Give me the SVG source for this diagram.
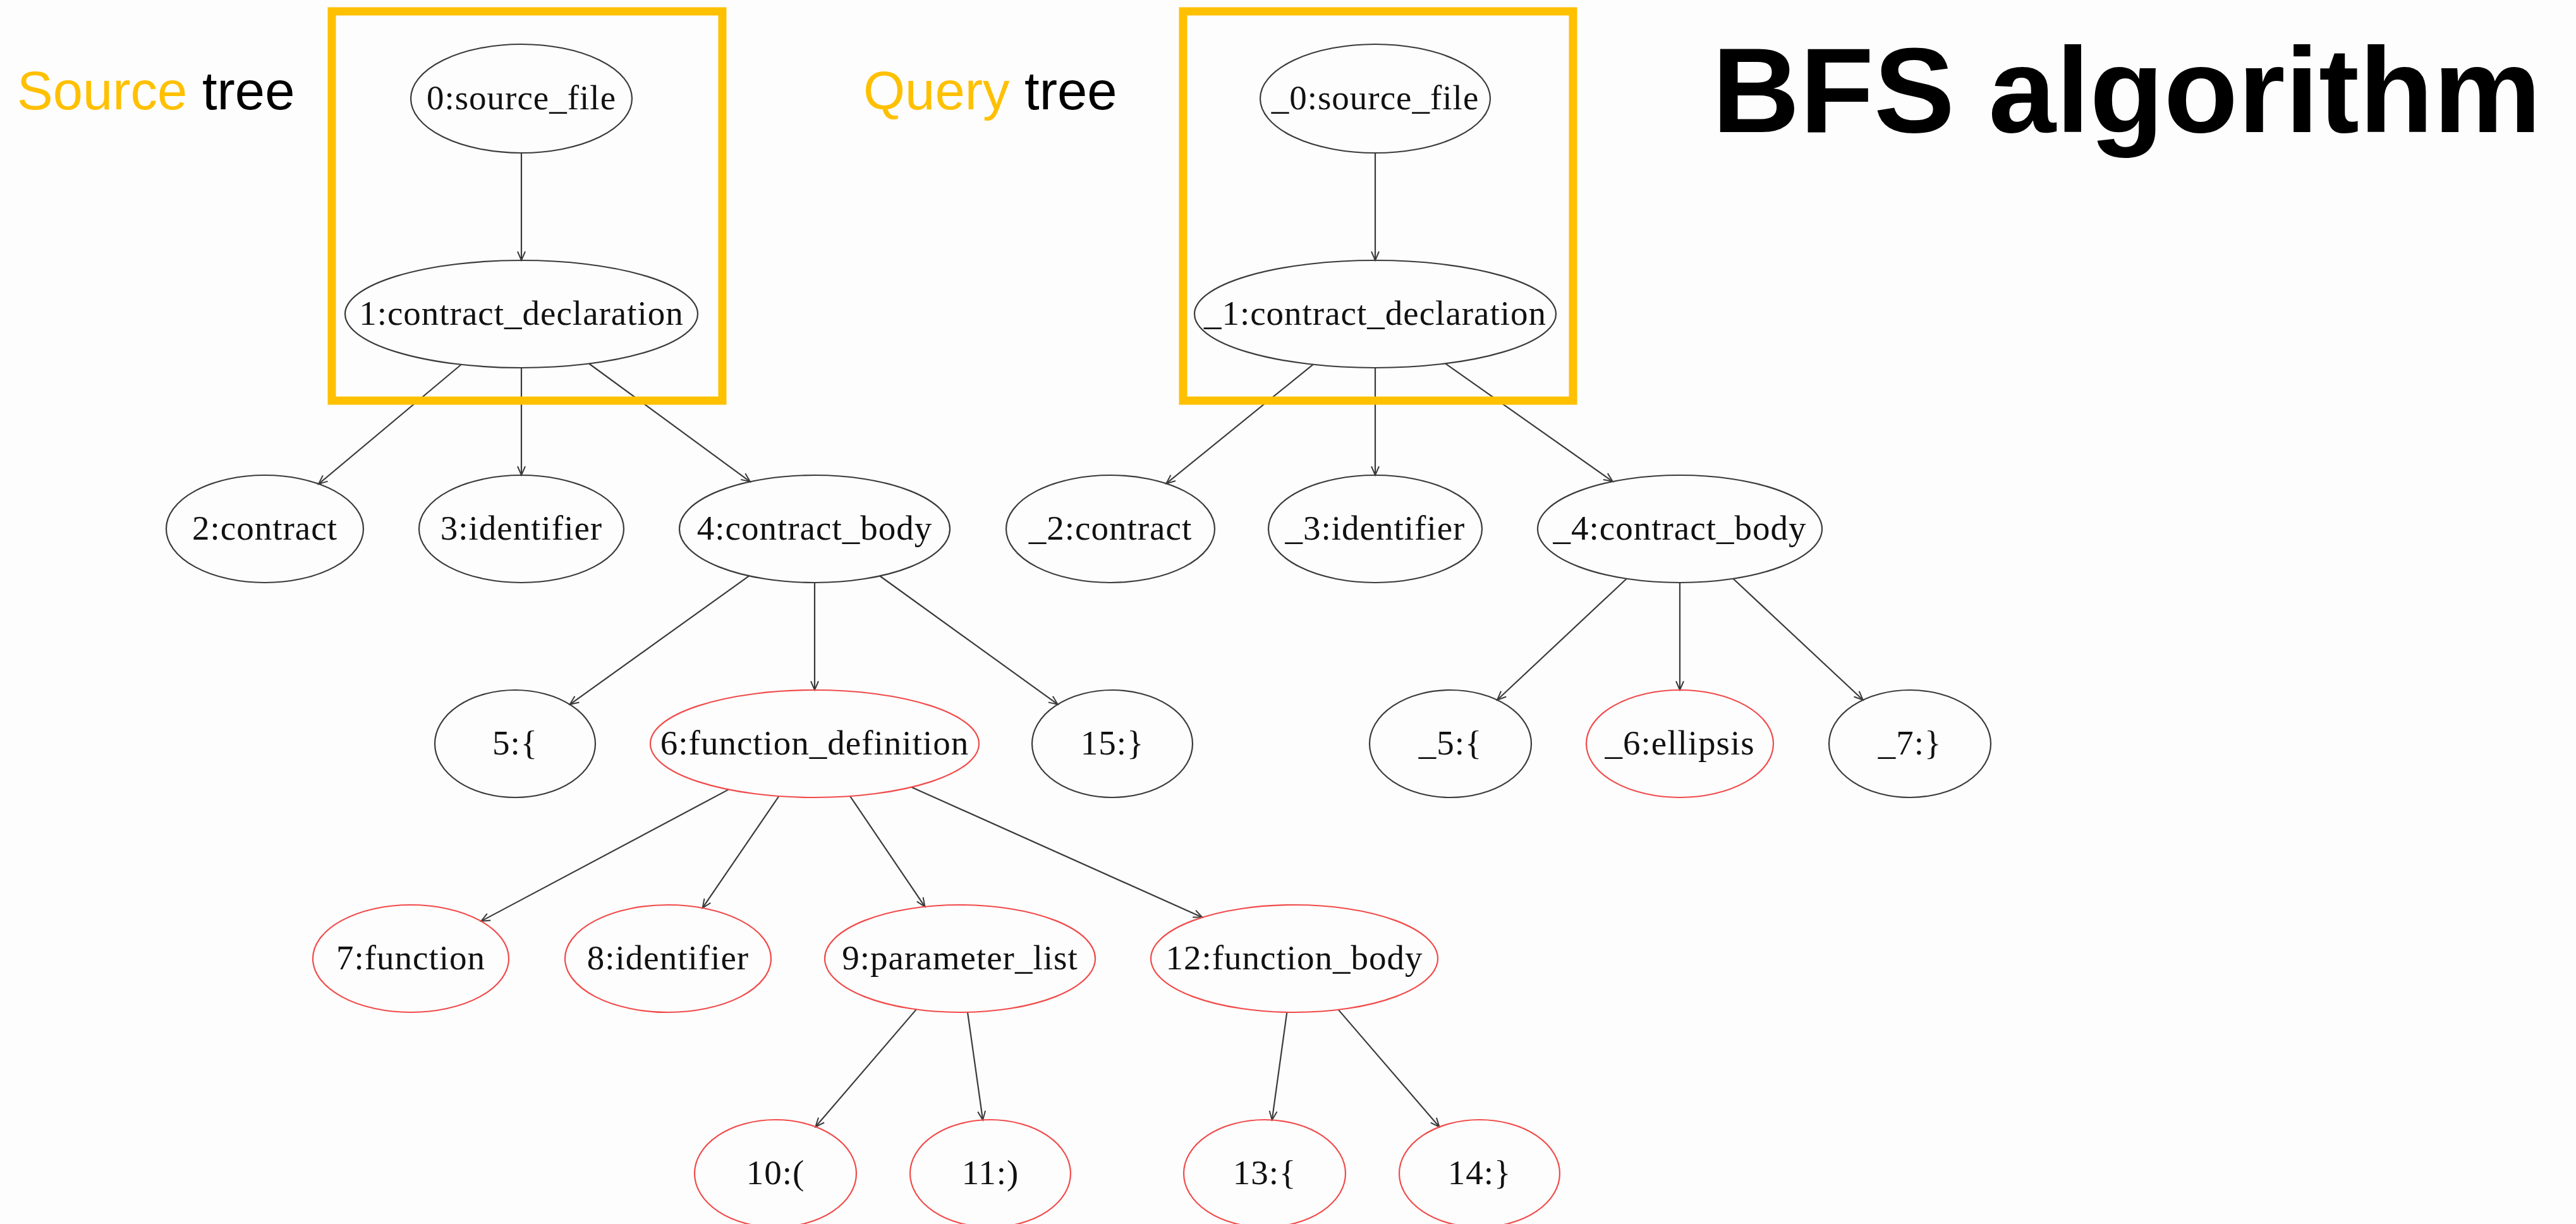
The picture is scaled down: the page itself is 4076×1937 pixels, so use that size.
<svg xmlns="http://www.w3.org/2000/svg" width="4076" height="1937" viewBox="0 0 4076 1937">
  <style>
    .node ellipse { fill: none; stroke: #3a3a3a; stroke-width: 2.2; }
    .node.hit ellipse { stroke: #f24a4a; }
    .node text { font-family: "Liberation Serif", "Times New Roman", serif; font-size: 55px; fill: #111; text-anchor: middle; letter-spacing: 1px; }
    .edges line { stroke: #3a3a3a; stroke-width: 2.2; marker-end: url(#vee); }
    .frame { fill: none; stroke: #FFC000; stroke-width: 13; }
    .caption { font-family: "Liberation Sans", Arial, sans-serif; font-size: 85px; fill: #000; }
    .caption .hl { fill: #FFC000; }
    .title { font-family: "Liberation Sans", Arial, sans-serif; font-size: 192px; font-weight: bold; fill: #000; }
  </style>
  <defs>
    <marker id="vee" markerUnits="userSpaceOnUse" markerWidth="16" markerHeight="14" refX="14" refY="6" orient="auto" overflow="visible">
      <path d="M0,0 L14,6 L0,12" fill="none" stroke="#3a3a3a" stroke-width="2"/>
    </marker>
  </defs>

  <rect width="4076" height="1937" fill="#fdfdfd"/>

  <!-- captions -->
  <text class="caption" x="27" y="173"><tspan class="hl">Source</tspan> tree</text>
  <text class="caption" x="1366" y="173"><tspan class="hl">Query</tspan> tree</text>
  <text class="title" x="2709" y="209">BFS algorithm</text>

  <!-- connectors -->
  <g id="connectors" class="edges">
    <!-- source tree -->
    <line x1="825" y1="241" x2="825" y2="412"/>
    <line x1="729.6" y1="577" x2="504" y2="766"/>
    <line x1="825" y1="582" x2="825" y2="752"/>
    <line x1="932.1" y1="575.5" x2="1187" y2="762.3"/>
    <line x1="1185.3" y1="911.4" x2="901.6" y2="1114.8"/>
    <line x1="1289" y1="922" x2="1289" y2="1092"/>
    <line x1="1392.2" y1="911.5" x2="1673.7" y2="1114.7"/>
    <line x1="1152.9" y1="1249.4" x2="761.2" y2="1457.8"/>
    <line x1="1232.4" y1="1260" x2="1111.6" y2="1436.9"/>
    <line x1="1345.1" y1="1260" x2="1463.5" y2="1434.9"/>
    <line x1="1442.3" y1="1245.7" x2="1902.4" y2="1451.8"/>
    <line x1="1449.9" y1="1597.4" x2="1290.4" y2="1783.2"/>
    <line x1="1531" y1="1601.9" x2="1555.1" y2="1772.4"/>
    <line x1="2036.3" y1="1601.9" x2="2012.7" y2="1772.4"/>
    <line x1="2117.7" y1="1597.9" x2="2277.5" y2="1783.4"/>
    <!-- query tree -->
    <line x1="2176" y1="241" x2="2176" y2="412"/>
    <line x1="2077.6" y1="576.8" x2="1845.4" y2="765.2"/>
    <line x1="2176" y1="582" x2="2176" y2="752"/>
    <line x1="2287.1" y1="575.3" x2="2551.8" y2="762.1"/>
    <line x1="2573.8" y1="915.8" x2="2369" y2="1107.7"/>
    <line x1="2658" y1="922" x2="2658" y2="1092"/>
    <line x1="2742.4" y1="915.8" x2="2947.8" y2="1107.7"/>
  </g>

  <!-- source tree nodes -->
  <g id="n0" class="node"><ellipse cx="825" cy="156" rx="175" ry="86"/><text x="825" y="173">0:source_file</text></g>
  <g id="n1" class="node"><ellipse cx="825" cy="497" rx="279" ry="85"/><text x="825" y="514">1:contract_declaration</text></g>
  <g id="n2" class="node"><ellipse cx="419" cy="837" rx="156" ry="85"/><text x="419" y="854">2:contract</text></g>
  <g id="n3" class="node"><ellipse cx="825" cy="837" rx="162" ry="85"/><text x="825" y="854">3:identifier</text></g>
  <g id="n4" class="node"><ellipse cx="1289" cy="837" rx="214" ry="85"/><text x="1289" y="854">4:contract_body</text></g>
  <g id="n5" class="node"><ellipse cx="815" cy="1177" rx="127" ry="85"/><text x="815" y="1194">5:{</text></g>
  <g id="n6" class="node hit"><ellipse cx="1289" cy="1177" rx="260" ry="85"/><text x="1289" y="1194">6:function_definition</text></g>
  <g id="n15" class="node"><ellipse cx="1760" cy="1177" rx="127" ry="85"/><text x="1760" y="1194">15:}</text></g>
  <g id="n7" class="node hit"><ellipse cx="650" cy="1517" rx="155" ry="85"/><text x="650" y="1534">7:function</text></g>
  <g id="n8" class="node hit"><ellipse cx="1057" cy="1517" rx="163" ry="85"/><text x="1057" y="1534">8:identifier</text></g>
  <g id="n9" class="node hit"><ellipse cx="1519" cy="1517" rx="214" ry="85"/><text x="1519" y="1534">9:parameter_list</text></g>
  <g id="n12" class="node hit"><ellipse cx="2048" cy="1517" rx="227" ry="85"/><text x="2048" y="1534">12:function_body</text></g>
  <g id="n10" class="node hit"><ellipse cx="1227" cy="1857" rx="128" ry="85"/><text x="1227" y="1874">10:(</text></g>
  <g id="n11" class="node hit"><ellipse cx="1567" cy="1857" rx="127" ry="85"/><text x="1567" y="1874">11:)</text></g>
  <g id="n13" class="node hit"><ellipse cx="2001" cy="1857" rx="128" ry="85"/><text x="2001" y="1874">13:{</text></g>
  <g id="n14" class="node hit"><ellipse cx="2341" cy="1857" rx="127" ry="85"/><text x="2341" y="1874">14:}</text></g>

  <!-- query tree nodes -->
  <g id="q0" class="node"><ellipse cx="2176" cy="156" rx="182" ry="86"/><text x="2176" y="173">_0:source_file</text></g>
  <g id="q1" class="node"><ellipse cx="2176" cy="497" rx="286" ry="85"/><text x="2176" y="514">_1:contract_declaration</text></g>
  <g id="q2" class="node"><ellipse cx="1757" cy="837" rx="165" ry="85"/><text x="1757" y="854">_2:contract</text></g>
  <g id="q3" class="node"><ellipse cx="2176" cy="837" rx="169" ry="85"/><text x="2176" y="854">_3:identifier</text></g>
  <g id="q4" class="node"><ellipse cx="2658" cy="837" rx="225" ry="85"/><text x="2658" y="854">_4:contract_body</text></g>
  <g id="q5" class="node"><ellipse cx="2295" cy="1177" rx="128" ry="85"/><text x="2295" y="1194">_5:{</text></g>
  <g id="q6" class="node hit"><ellipse cx="2658" cy="1177" rx="148" ry="85"/><text x="2658" y="1194">_6:ellipsis</text></g>
  <g id="q7" class="node"><ellipse cx="3022" cy="1177" rx="128" ry="85"/><text x="3022" y="1194">_7:}</text></g>

  <!-- highlight frames around the first two levels -->
  <rect class="frame" x="525" y="18" width="618" height="616"/>
  <rect class="frame" x="1872" y="18" width="617" height="616"/>
</svg>
